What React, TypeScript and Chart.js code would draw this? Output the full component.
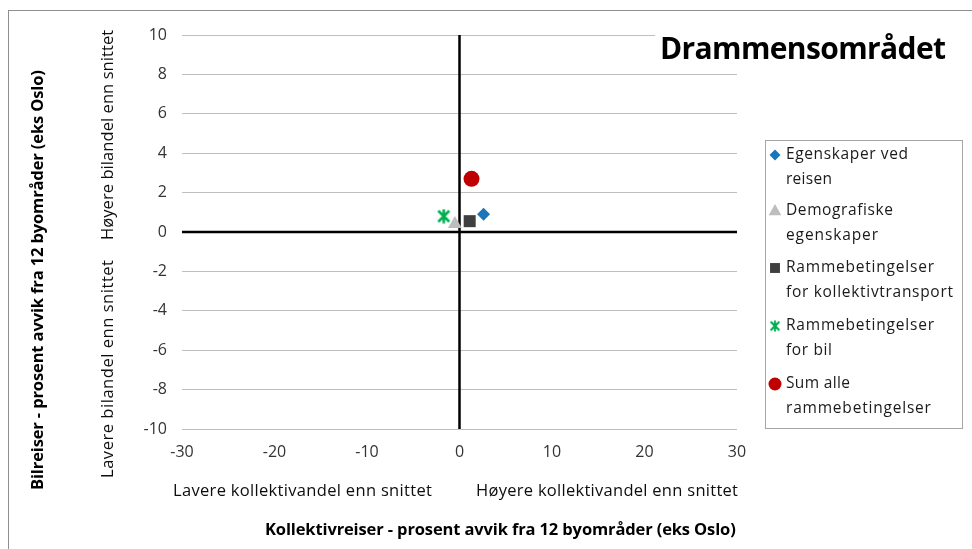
import React, { useEffect, useRef } from 'react';
import { Chart, registerables } from 'chart.js';

Chart.register(...registerables);

// ---- data ----
const seriesNames = [
  'Egenskaper ved reisen',
  'Demografiske egenskaper',
  'Rammebetingelser for kollektivtransport',
  'Rammebetingelser for bil',
  'Sum alle rammebetingelser',
];
const legendLines = [
  ['Egenskaper ved', 'reisen'],
  ['Demografiske', 'egenskaper'],
  ['Rammebetingelser', 'for kollektivtransport'],
  ['Rammebetingelser', 'for bil'],
  ['Sum alle', 'rammebetingelser'],
];
const xValues = [2.6, -0.5, 1.1, -1.7, 1.3];
const yValues = [0.9, 0.4, 0.55, 0.8, 2.7];
const xTickValues = [-30, -20, -10, 0, 10, 20, 30];
const yTickValues = [-10, -8, -6, -4, -2, 0, 2, 4, 6, 8, 10];

const chartTitle = 'Drammensområdet';
const yTitle = 'Bilreiser - prosent avvik fra 12 byområder (eks Oslo)';
const xTitle = 'Kollektivreiser - prosent avvik fra 12 byområder (eks Oslo)';
const yUpper = 'Høyere bilandel enn snittet';
const yLower = 'Lavere bilandel enn snittet';
const xLeft = 'Lavere kollektivandel enn snittet';
const xRight = 'Høyere kollektivandel enn snittet';

// ---- styles ----
const colors = ['#1B75BB', '#BDBDBD', '#3F3F3F', '#00B050', '#BF0000'];
const radii = [6.5, 8, 8.5, 7, 8];
const FONT = '"Open Sans", Lato, sans-serif';

function makeStar(color: string, size: number) {
  const c = document.createElement('canvas');
  c.width = size;
  c.height = size;
  const g = c.getContext('2d')!;
  g.strokeStyle = color;
  g.lineWidth = 2.6;
  g.lineCap = 'butt';
  const p = 2;
  g.beginPath();
  g.moveTo(p, p);
  g.lineTo(size - p, size - p);
  g.moveTo(size - p, p);
  g.lineTo(p, size - p);
  g.moveTo(size / 2, 0.5);
  g.lineTo(size / 2, size - 0.5);
  g.stroke();
  return c;
}

// draw text stretched/condensed (via letter spacing) to a target width
function fitText(ctx: any, text: string, cx: number, cy: number, target: number, align: 'center' | 'left' | 'right' = 'center') {
  ctx.save();
  ctx.letterSpacing = '0px';
  const w = ctx.measureText(text).width;
  const n = Math.max(1, text.length - 1);
  const ls = (target - w) / n;
  ctx.letterSpacing = `${ls.toFixed(2)}px`;
  ctx.textAlign = 'left';
  let x = cx;
  if (align === 'center') x = cx - target / 2;
  else if (align === 'right') x = cx - target;
  ctx.fillText(text, x, cy);
  ctx.restore();
}

export default function App() {
  const ref = useRef<HTMLCanvasElement | null>(null);

  useEffect(() => {
    const canvas = ref.current!;
    const star = makeStar(colors[3], 15);
    const pointStyles: any[] = ['rectRot', 'triangle', 'rect', star, 'circle'];

    const datasets = seriesNames.map((name, i) => ({
      label: name,
      data: [{ x: xValues[i], y: yValues[i] }],
      backgroundColor: colors[i],
      borderColor: colors[i],
      borderWidth: 0,
      pointStyle: pointStyles[i],
      pointRadius: radii[i],
      pointHoverRadius: radii[i],
    }));

    const extras = {
      id: 'extras',
      beforeDraw(chart: any) {
        const ctx = chart.ctx;
        ctx.save();
        ctx.fillStyle = '#ffffff';
        ctx.fillRect(0, 0, chart.width, chart.height);
        ctx.strokeStyle = '#8E8E8E';
        ctx.lineWidth = 1;
        ctx.strokeRect(8.5, 10.5, 1000, 700);
        ctx.restore();
      },
      beforeDatasetsDraw(chart: any) {
        const ctx = chart.ctx;
        const xs = chart.scales.x;
        const ys = chart.scales.y;
        const ca = chart.chartArea;
        ctx.save();
        ctx.strokeStyle = '#000000';
        ctx.lineWidth = 2.5;
        const x0 = xs.getPixelForValue(0);
        const y0 = ys.getPixelForValue(0);
        ctx.beginPath();
        ctx.moveTo(ca.left, y0);
        ctx.lineTo(ca.right, y0);
        ctx.moveTo(x0, ca.top);
        ctx.lineTo(x0, ca.bottom);
        ctx.stroke();
        ctx.restore();
      },
      afterDraw(chart: any) {
        const ctx = chart.ctx;
        ctx.save();
        // title box
        ctx.fillStyle = '#ffffff';
        ctx.fillRect(655, 22, 300, 48);
        ctx.fillStyle = '#000000';
        ctx.font = `bold 30px ${FONT}`;
        ctx.textBaseline = 'middle';
        fitText(ctx, chartTitle, 946, 50, 286, 'right');

        // axis titles
        ctx.font = `bold 16.5px ${FONT}`;
        fitText(ctx, xTitle, 500.5, 530, 471);
        ctx.save();
        ctx.translate(38, 280);
        ctx.rotate(-Math.PI / 2);
        fitText(ctx, yTitle, 0, 0, 420);
        ctx.restore();

        ctx.fillStyle = '#0D0D0D';
        ctx.font = `16.5px ${FONT}`;
        fitText(ctx, xLeft, 302.5, 491, 259);
        fitText(ctx, xRight, 607, 491, 262);
        ctx.save();
        ctx.translate(108, 135);
        ctx.rotate(-Math.PI / 2);
        fitText(ctx, yUpper, 0, 0, 210);
        ctx.restore();
        ctx.save();
        ctx.translate(108, 369);
        ctx.rotate(-Math.PI / 2);
        fitText(ctx, yLower, 0, 0, 218);
        ctx.restore();

        // legend
        ctx.fillStyle = '#ffffff';
        ctx.fillRect(765.5, 140.5, 197, 288);
        ctx.strokeStyle = '#A6A6A6';
        ctx.lineWidth = 1;
        ctx.strokeRect(765.5, 140.5, 197, 288);
        const rowY = [155, 211, 268, 326, 384];
        const widths = [
          [122, 46],
          [107, 92],
          [148, 167],
          [148, 46],
          [64, 145],
        ];
        chart.data.datasets.forEach((ds: any, i: number) => {
          const y = rowY[i];
          const ps = ds.pointStyle;
          const r = i === 4 ? 6.5 : i === 1 ? 7 : i === 2 ? 7 : 5.5;
          ctx.fillStyle = ds.backgroundColor;
          ctx.strokeStyle = ds.borderColor;
          if (typeof ps === 'string') {
            ctx.beginPath();
            if (ps === 'circle') {
              ctx.arc(775, y, r, 0, Math.PI * 2);
            } else if (ps === 'rect') {
              const s = r * Math.SQRT1_2;
              ctx.rect(775 - s, y - s, 2 * s, 2 * s);
            } else if (ps === 'rectRot') {
              ctx.moveTo(775 - r, y);
              ctx.lineTo(775, y - r);
              ctx.lineTo(775 + r, y);
              ctx.lineTo(775, y + r);
              ctx.closePath();
            } else if (ps === 'triangle') {
              ctx.moveTo(775, y - r);
              ctx.lineTo(775 + r * 0.9, y + r * 0.6);
              ctx.lineTo(775 - r * 0.9, y + r * 0.6);
              ctx.closePath();
            }
            ctx.fill();
          } else {
            ctx.drawImage(ps, 775 - 6, y - 6, 12, 12);
          }
          ctx.fillStyle = '#1A1A1A';
          ctx.font = `15.5px ${FONT}`;
          ctx.textBaseline = 'middle';
          legendLines[i].forEach((line, k) => {
            fitText(ctx, line, 786, y + k * 24.5, widths[i][k], 'left');
          });
        });
        ctx.restore();
      },
    };

    const chart = new Chart(canvas, {
      type: 'scatter',
      data: { datasets },
      options: {
        animation: false,
        responsive: false,
        maintainAspectRatio: false,
        events: [],
        layout: { padding: { top: 35, right: 235, left: 0, bottom: 0 } },
        plugins: {
          legend: { display: false },
          tooltip: { enabled: false },
          title: { display: false },
        },
        scales: {
          x: {
            type: 'linear',
            min: -30,
            max: 30,
            afterFit: (s: any) => { s.height = 120; },
            afterBuildTicks: (s: any) => { s.ticks = xTickValues.map((v) => ({ value: v })); },
            grid: { display: false, drawTicks: false },
            border: { display: false },
            ticks: {
              padding: 14,
              color: '#333333',
              font: { family: FONT, size: 16 },
              maxRotation: 0,
            },
          },
          y: {
            type: 'linear',
            min: -10,
            max: 10,
            afterFit: (s: any) => { s.width = 182; },
            afterBuildTicks: (s: any) => { s.ticks = yTickValues.map((v) => ({ value: v })); },
            grid: { color: '#BFBFBF', lineWidth: 1, drawTicks: false },
            border: { display: false },
            ticks: {
              padding: 15,
              color: '#333333',
              font: { family: FONT, size: 16 },
            },
          },
        },
      },
      plugins: [extras],
    });
    return () => chart.destroy();
  }, []);

  return (
    <div style={{ position: 'absolute', left: 0, top: 0, width: 972, height: 549 }}>
      <canvas ref={ref} width={972} height={549} style={{ width: 972, height: 549, display: 'block' }} />
    </div>
  );
}
